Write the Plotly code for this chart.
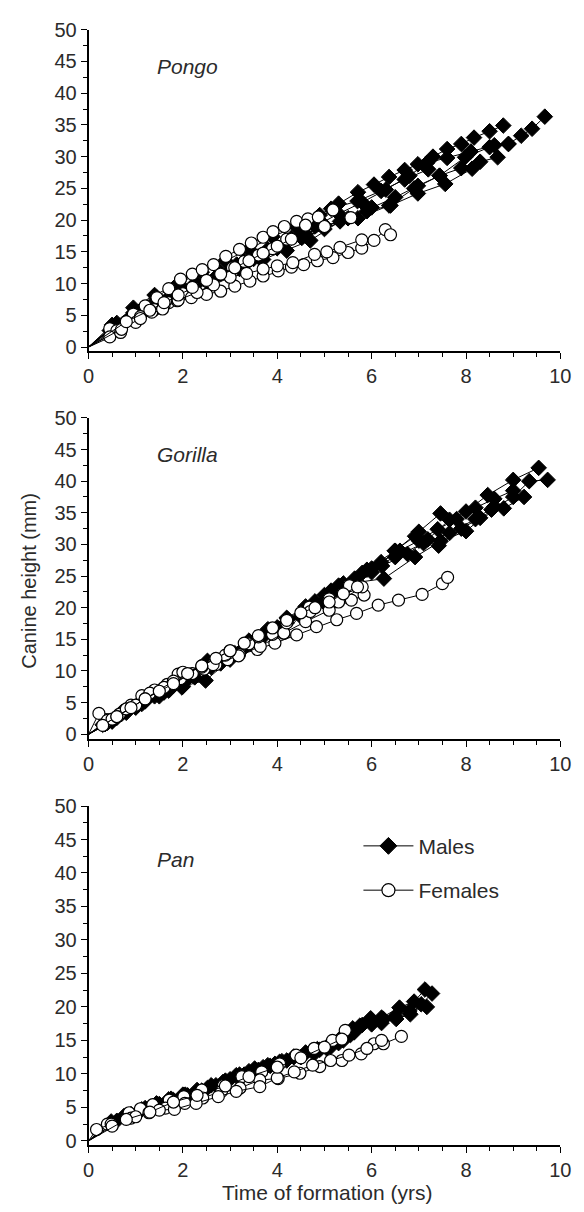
import plotly.graph_objects as go

# ---------------- data (time of formation in yrs, canine height in mm) ----------------
pongo_male_t = [
    [0, 0.5, 0.95, 1.4, 1.9, 2.4, 2.9, 3.4, 3.9, 4.4, 4.9, 5.3, 5.71, 6.05, 6.37, 6.7, 6.98, 7.3, 7.6, 7.9, 8.17, 8.5, 8.79],
    [0, 0.45, 0.88, 1.3, 1.8, 2.3, 2.8, 3.3, 3.8, 4.3, 4.8, 5.3, 5.8, 6.3, 6.8, 7.17, 7.6, 8.1, 8.6, 8.9, 9.17, 9.4, 9.67],
    [0, 0.5, 0.95, 1.45, 2.0, 2.5, 3.14, 3.6, 4.0, 4.52, 5.0, 5.5, 6.0, 6.5, 6.98, 7.44, 7.9, 8.3, 8.67],
    [0, 0.55, 1.0, 1.6, 2.07, 2.68, 3.2, 3.7, 4.2, 4.7, 5.33, 5.9, 6.4, 6.98, 7.56, 8.13],
    [0, 0.5, 1.0, 1.5, 2.0, 2.5, 3.0, 3.5, 4.0, 4.5, 5.0, 5.71, 6.37, 6.9, 7.44, 7.98, 8.5, 8.9],
    [0, 0.6, 1.1, 1.7, 2.2, 2.8, 3.4, 4.0, 4.6, 5.14, 5.7, 6.2, 6.7, 7.2],
]
pongo_male_h = [
    [0, 3.5, 6.2, 8.2, 10.0, 11.8, 13.6, 15.4, 17.4, 19.0, 20.8, 22.6, 24.4, 25.6, 26.8, 27.9, 28.8, 30.0, 31.2, 32.0, 33.0, 34.0, 34.9],
    [0, 2.6, 4.6, 6.4, 8.2, 10.0, 11.8, 13.6, 15.4, 17.2, 19.0, 21.0, 22.8, 24.8, 27.0, 29.0, 29.8, 30.8, 31.8, 32.0, 33.3, 34.4, 36.3],
    [0, 3.0, 5.4, 7.8, 8.8, 10.4, 13.0, 14.2, 15.6, 17.2, 18.6, 20.3, 22.0, 23.6, 25.4, 27.0, 28.2, 29.2, 29.9],
    [0, 3.2, 4.6, 6.6, 8.8, 10.9, 12.3, 13.8, 15.2, 16.8, 19.8, 21.4, 22.3, 24.2, 25.7, 28.1],
    [0, 3.0, 5.0, 7.0, 8.6, 10.4, 12.0, 13.9, 15.6, 17.4, 19.2, 20.3, 22.3, 25.0, 27.0, 29.9, 31.5, 32.0],
    [0, 3.8, 5.8, 7.8, 9.6, 11.6, 13.6, 15.8, 17.8, 21.8, 23.0, 24.6, 26.4, 28.0],
]
pongo_female_t = [
    [0, 0.45, 0.95, 1.2, 1.45, 1.7, 1.95, 2.2, 2.41, 2.65, 2.91, 3.2, 3.45, 3.7, 3.91, 4.15, 4.41, 4.65, 4.87, 5.18],
    [0, 0.6, 1.1, 1.4, 1.7, 2.0, 2.2, 2.5, 2.8, 3.05, 3.3, 3.6, 3.9, 4.2, 4.6, 5.0, 5.56],
    [0, 0.45, 0.68, 1.0, 1.34, 1.6, 1.88, 2.18, 2.5, 2.8, 3.1, 3.42, 3.7, 4.02, 4.3, 4.56, 4.85, 5.18, 5.5, 5.79, 6.05, 6.29, 6.4],
    [0, 0.7, 1.1, 1.57, 1.9, 2.3, 2.65, 3.0, 3.35, 3.7, 4.0, 4.33, 4.79, 5.05, 5.33, 5.79],
    [0, 0.8, 1.3, 1.6, 1.9, 2.2, 2.5, 2.8, 3.1, 3.4, 3.7, 4.0, 4.3],
]
pongo_female_h = [
    [0, 2.9, 5.2, 6.5, 7.8, 9.2, 10.7, 11.5, 12.2, 13.0, 14.3, 15.4, 16.4, 17.3, 18.2, 19.0, 19.8, 20.2, 20.5, 21.6],
    [0, 2.6, 4.8, 5.9, 7.0, 8.4, 9.3, 10.4, 11.5, 12.5, 13.5, 14.5, 15.5, 17.0, 19.2, 19.0, 20.4],
    [0, 1.6, 2.3, 3.9, 5.5, 6.5, 7.3, 7.8, 8.3, 8.8, 9.6, 10.4, 11.2, 12.0, 12.6, 13.0, 13.6, 14.1, 14.9, 15.6, 16.8, 18.5, 17.7],
    [0, 2.8, 4.5, 6.0, 7.4, 8.6, 9.8, 11.0, 11.6, 12.3, 12.8, 13.3, 14.6, 15.0, 15.7, 16.9],
    [0, 4.0, 5.8, 7.0, 8.2, 9.4, 10.5, 11.5, 12.5, 13.6, 14.8, 15.9, 17.0],
]

gorilla_male_t = [
    [0, 0.3, 0.7, 1.1, 1.5, 2.0, 2.5, 3.0, 3.5, 4.0, 4.6, 5.14, 5.64, 6.22, 6.76, 7.19, 7.65, 8.0, 8.46, 9.0, 9.54],
    [0, 0.4, 0.8, 1.2, 1.6, 2.1, 2.6, 3.1, 3.6, 4.1, 4.6, 5.2, 5.7, 6.26, 6.92, 7.46, 8.0, 8.54, 9.0, 9.34, 9.73],
    [0, 0.5, 1.0, 1.5, 2.0, 2.48, 3.0, 3.5, 4.0, 4.5, 5.0, 5.5, 6.0, 6.49, 6.92, 7.42, 7.9, 8.3, 8.8, 9.23],
    [0, 0.6, 1.13, 1.7, 2.25, 2.8, 3.29, 3.75, 4.22, 4.8, 5.3, 5.9, 6.5, 7.0, 7.46],
    [0, 0.5, 1.0, 1.52, 1.98, 2.52, 3.0, 3.6, 4.2, 4.8, 5.4, 6.0, 6.5, 7.1, 7.65, 8.2, 8.6],
    [0, 0.35, 0.7, 1.05, 1.4, 1.8, 2.2, 2.6, 3.0, 3.4, 3.8, 4.2, 4.6, 5.0, 5.4, 5.8, 6.2, 6.6, 7.0, 7.4, 7.8, 8.2, 8.6, 9.0],
]
gorilla_male_h = [
    [0, 1.5, 3.5, 5.0, 6.8, 8.6, 10.6, 12.6, 14.7, 16.9, 19.6, 22.7, 24.6, 26.6, 28.5, 30.8, 33.9, 35.2, 37.8, 40.2, 42.1],
    [0, 1.8, 3.4, 5.2, 6.6, 8.8, 10.6, 12.8, 14.8, 17.0, 19.2, 22.2, 24.0, 24.6, 28.0, 30.5, 32.1, 35.5, 37.5, 40.0, 40.2],
    [0, 2.0, 4.2, 6.0, 7.6, 8.5, 11.8, 14.0, 16.4, 18.6, 20.8, 23.4, 25.6, 29.0, 31.3, 29.8, 32.5, 34.2, 35.7, 37.5],
    [0, 2.6, 4.8, 6.9, 9.0, 11.2, 13.6, 15.8, 18.2, 21.0, 23.5, 26.0, 29.0, 32.0, 34.9],
    [0, 2.1, 4.4, 6.4, 7.4, 11.6, 12.2, 14.6, 17.6, 20.2, 23.8, 26.2, 28.0, 30.2, 31.8, 34.0, 36.0],
    [0, 1.6, 3.2, 4.6, 6.0, 7.7, 9.4, 11.2, 13.0, 14.8, 16.6, 18.4, 20.2, 22.0, 23.8, 25.5, 27.2, 29.0, 30.6, 32.4, 34.0, 35.8, 37.2, 38.5],
]
gorilla_female_t = [
    [0, 0.22, 0.66, 0.9, 1.13, 1.4, 1.67, 1.95, 2.2, 2.45, 2.7, 2.95, 3.2, 3.58, 3.95, 4.41, 4.83, 5.26, 5.68, 6.14, 6.57, 7.07, 7.5, 7.61],
    [0, 0.4, 0.8, 1.3, 1.9, 2.4, 2.9, 3.4, 3.9, 4.14, 4.68, 5.1, 5.53],
    [0, 0.5, 1.0, 1.6, 2.0, 2.64, 3.18, 3.64, 4.14, 4.6, 5.1, 5.57, 5.84],
    [0, 0.6, 1.2, 1.8, 2.4, 3.0, 3.6, 4.2, 4.7, 5.3, 5.8],
    [0, 0.3, 0.6, 0.9, 1.2, 1.5, 1.8, 2.1, 2.4, 2.7, 3.0, 3.3, 3.6, 3.9, 4.2, 4.5, 4.8, 5.1, 5.4, 5.7],
]
gorilla_female_h = [
    [0, 3.3, 3.2, 4.6, 6.1, 7.0, 7.9, 8.8, 9.6, 10.3, 11.0, 11.8, 12.6, 13.4, 14.4, 15.7, 17.0, 18.1, 19.1, 20.4, 21.2, 22.1, 23.8, 24.8],
    [0, 2.2, 4.0, 6.5, 9.5, 10.6, 12.5, 14.3, 15.8, 16.0, 20.1, 21.4, 23.5],
    [0, 2.4, 4.6, 7.4, 9.8, 11.0, 12.4, 13.9, 16.0, 17.8, 19.6, 21.2, 22.0],
    [0, 2.8, 5.6, 8.4, 10.8, 13.2, 15.4, 17.6, 19.4, 20.9, 23.3],
    [0, 1.4, 2.8, 4.2, 5.6, 6.8, 8.0, 9.6, 10.8, 12.0, 13.2, 14.4, 15.6, 16.8, 18.0, 19.2, 20.0, 20.9, 22.2, 23.3],
]

pan_male_t = [
    [0, 0.48, 0.8, 1.13, 1.45, 1.7, 2.0, 2.3, 2.6, 2.9, 3.2, 3.52, 3.8, 4.05, 4.35, 4.6, 4.9, 5.13, 5.4, 5.63, 5.98, 6.21, 6.59, 6.9, 7.13],
    [0, 0.75, 1.1, 1.44, 1.75, 2.05, 2.52, 2.85, 3.13, 3.4, 3.7, 3.95, 4.2, 4.5, 4.78, 5.05, 5.3, 5.55, 5.75, 6.0, 6.21, 6.52, 6.82, 7.05, 7.28],
    [0, 0.6, 0.9, 1.2, 1.5, 1.8, 2.1, 2.4, 2.7, 3.0, 3.3, 3.6, 3.85, 4.1, 4.35, 4.6, 4.85, 5.1, 5.35, 5.6, 5.8, 6.0, 6.25, 6.5, 6.8, 7.17],
]
pan_male_h = [
    [0, 2.9, 3.8, 4.7, 5.5, 6.2, 6.9, 7.6, 8.3, 9.0, 9.9, 10.8, 11.3, 11.8, 12.6, 13.2, 13.6, 14.0, 15.0, 16.2, 18.3, 18.4, 19.9, 20.8, 22.6],
    [0, 3.7, 4.6, 5.6, 6.3, 6.9, 7.9, 8.8, 9.8, 10.4, 11.0, 11.5, 12.0, 12.5, 13.0, 13.8, 14.6, 15.8, 17.2, 17.4, 17.6, 18.2, 18.9, 20.4, 22.0],
    [0, 3.0, 4.0, 4.9, 5.5, 6.1, 6.8, 7.5, 8.3, 9.2, 9.9, 10.6, 11.2, 11.9, 12.5, 13.1, 13.7, 14.4, 15.4, 16.8, 17.3, 17.8, 18.2, 18.6, 19.4, 20.0],
]
pan_female_t = [
    [0, 0.4, 0.86, 1.1, 1.36, 1.71, 2.02, 2.4, 2.86, 3.25, 3.67, 4.05, 4.4, 4.78, 5.17, 5.44],
    [0, 0.17, 0.48, 0.9, 1.28, 1.63, 2.04, 2.42, 2.82, 3.21, 3.63, 4.02, 4.48, 4.9, 5.37, 5.78, 6.05, 6.25, 6.63],
    [0, 0.5, 1.0, 1.5, 1.82, 2.28, 2.75, 3.13, 3.63, 4.0, 4.36, 4.75, 5.13, 5.52, 5.9, 6.21],
    [0, 0.8, 1.3, 1.8, 2.3, 2.9, 3.4, 4.0, 4.5, 5.0, 5.37],
]
pan_female_h = [
    [0, 2.5, 4.2, 4.8, 5.4, 6.1, 6.6, 7.6, 8.3, 9.6, 10.3, 11.5, 12.8, 13.8, 15.0, 16.5],
    [0, 1.7, 2.5, 3.4, 4.2, 4.9, 5.6, 6.4, 7.4, 7.9, 9.1, 9.3, 10.1, 11.1, 12.0, 13.0, 14.5, 14.5, 15.6],
    [0, 2.2, 3.6, 4.6, 4.7, 5.6, 6.6, 7.4, 8.1, 9.4, 10.3, 11.3, 12.0, 12.8, 13.8, 15.0],
    [0, 3.2, 4.3, 5.8, 6.8, 8.2, 9.6, 11.0, 12.4, 14.0, 15.2],
]

taxa = ["Pongo", "Gorilla", "Pan"]
x_ticks = [0, 2, 4, 6, 8, 10]
y_ticks = [0, 5, 10, 15, 20, 25, 30, 35, 40, 45, 50]

# ---------------- layout geometry ----------------
W, H = 584, 1212
FONT = "Liberation Sans, Arial, Helvetica, sans-serif"
TXT = "#2b2b2b"
x_px = (85, 571)
panels_px = [(19, 345, -0.6), (413, 739, -0.75), (807, 1151, -0.6)]

fig = go.Figure()

datasets = [
    (pongo_male_t, pongo_male_h, pongo_female_t, pongo_female_h),
    (gorilla_male_t, gorilla_male_h, gorilla_female_t, gorilla_female_h),
    (pan_male_t, pan_male_h, pan_female_t, pan_female_h),
]


def sizes(t, s):
    # no marker drawn at the origin, where all curves start
    return [0 if v == 0 else s for v in t]


for i, (mt, mh, ft, fh) in enumerate(datasets):
    xa = "x" if i == 0 else f"x{i+1}"
    ya = "y" if i == 0 else f"y{i+1}"
    for k, (t, h) in enumerate(zip(mt, mh)):
        fig.add_trace(go.Scatter(
            x=t, y=h, xaxis=xa, yaxis=ya, mode="lines+markers",
            line=dict(color="black", width=1),
            marker=dict(symbol="diamond", size=sizes(t, 12), color="black", opacity=1,
                        line=dict(color="black", width=1)),
            name="Males", legendgroup="m",
            showlegend=False, hoverinfo="skip"))
    for k, (t, h) in enumerate(zip(ft, fh)):
        fig.add_trace(go.Scatter(
            x=t, y=h, xaxis=xa, yaxis=ya, mode="lines+markers",
            line=dict(color="black", width=1),
            marker=dict(symbol="circle", size=sizes(t, 12), color="white", opacity=1,
                        line=dict(color="black", width=1.2)),
            name="Females", legendgroup="f",
            showlegend=False, hoverinfo="skip"))

# legend entries (legend-only items, no data)
fig.add_trace(go.Scatter(
    x=[None], y=[None], xaxis="x3", yaxis="y3", mode="lines+markers",
    line=dict(color="black", width=1),
    marker=dict(symbol="diamond", size=13, color="black", opacity=1, line=dict(color="black", width=1)),
    name="Males", legendgroup="m", showlegend=True))
fig.add_trace(go.Scatter(
    x=[None], y=[None], xaxis="x3", yaxis="y3", mode="lines+markers",
    line=dict(color="black", width=1),
    marker=dict(symbol="circle", size=13, color="white", opacity=1, line=dict(color="black", width=1.2)),
    name="Females", legendgroup="f", showlegend=True))

layout = dict(
    width=W, height=H, margin=dict(l=0, r=0, t=0, b=0),
    paper_bgcolor="white", plot_bgcolor="white",
    font=dict(family=FONT, size=20, color=TXT),
    showlegend=True,
    legend=dict(x=363 / W, y=1 - 827 / H, xanchor="left", yanchor="top",
                bgcolor="rgba(0,0,0,0)", borderwidth=0,
                font=dict(family=FONT, size=21, color=TXT),
                itemsizing="trace", tracegroupgap=14, itemwidth=50,
                traceorder="grouped"),
    annotations=[],
)

for i, (top, bot, ymin) in enumerate(panels_px):
    xk = "xaxis" if i == 0 else f"xaxis{i+1}"
    yk = "yaxis" if i == 0 else f"yaxis{i+1}"
    xa = "x" if i == 0 else f"x{i+1}"
    ya = "y" if i == 0 else f"y{i+1}"
    layout[xk] = dict(
        domain=[x_px[0] / W, x_px[1] / W], range=[0, 10], anchor=ya,
        showgrid=False, zeroline=False, showline=True, linecolor="black", linewidth=1.6,
        ticks="outside", ticklen=6, tickwidth=1.4, tickcolor="black",
        tickvals=x_ticks, ticktext=[str(v) for v in x_ticks],
        minor=dict(dtick=0.5, tick0=0, ticks="outside", ticklen=4, tickwidth=1.2, tickcolor="black"),
        tickfont=dict(family=FONT, size=20, color=TXT),
    )
    layout[yk] = dict(
        domain=[1 - bot / H, 1 - top / H], range=[ymin, 50], anchor=xa,
        showgrid=False, zeroline=False, showline=True, linecolor="black", linewidth=1.6,
        ticks="outside", ticklen=6, tickwidth=1.4, tickcolor="black",
        tickvals=y_ticks, ticktext=[str(v) for v in y_ticks],
        minor=dict(dtick=2.5, tick0=0, ticks="outside", ticklen=4, tickwidth=1.2, tickcolor="black"),
        tickfont=dict(family=FONT, size=20, color=TXT),
    )
    label_y = 44.2 if i < 2 else 42.0
    layout["annotations"].append(dict(
        x=1.4, y=label_y, xref=xa, yref=ya, text=f"<i>{taxa[i]}</i>",
        showarrow=False, xanchor="left", yanchor="middle",
        font=dict(family=FONT, size=21, color=TXT)))

layout["annotations"].append(dict(
    x=24 / W, y=1 - 578 / H, xref="paper", yref="paper", text="Canine height (mm)",
    textangle=-90, showarrow=False, xanchor="center", yanchor="middle",
    font=dict(family=FONT, size=20, color=TXT)))
layout["annotations"].append(dict(
    x=331 / W, y=1 - 1199 / H, xref="paper", yref="paper",
    text="Time of formation (yrs)", showarrow=False, xanchor="center", yanchor="middle",
    font=dict(family=FONT, size=21, color=TXT)))

fig.update_layout(**layout)
fig.write_html("out.html")
